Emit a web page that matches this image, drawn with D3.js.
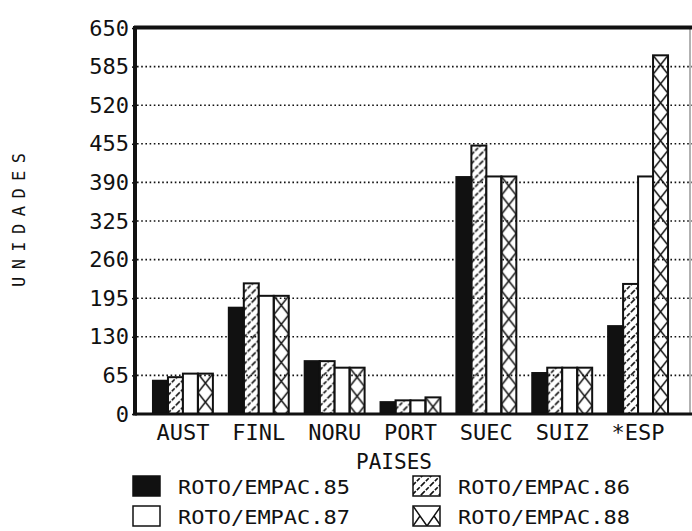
<!DOCTYPE html>
<html>
<head>
<meta charset="utf-8">
<script src="https://cdn.jsdelivr.net/npm/d3@7"></script>
<style>
  body { margin: 0; background: #fff; }
  svg { display: block; }
  text { font-family: "DejaVu Sans Mono", monospace; fill: #111; }
</style>
</head>
<body>
<svg class="chart" width="692" height="531"></svg>
<script>
// Countries (x categories) and the four yearly series.
var paises = ["AUST", "FINL", "NORU", "PORT", "SUEC", "SUIZ", "*ESP"];
var roto85 = [56, 179, 89, 20, 399, 69, 148];
var roto86 = [62, 220, 89, 23, 452, 78, 219];
var roto87 = [68, 199, 78, 23, 400, 78, 400];
var roto88 = [68, 199, 78, 28, 400, 78, 604];
var seriesNames = ["ROTO/EMPAC.85", "ROTO/EMPAC.86", "ROTO/EMPAC.87", "ROTO/EMPAC.88"];
var yTicks = [0, 65, 130, 195, 260, 325, 390, 455, 520, 585, 650];

var series = [roto85, roto86, roto87, roto88];
var fills = ["#111", "url(#hatch)", "#fff", "url(#cross)"];

// Plot frame.
var plotLeft = 135, plotRight = 691, plotTop = 28, plotBottom = 414;

var svg = d3.select(".chart");

var x0 = d3.scaleBand()
    .domain(paises)
    .range([145, 676])
    .paddingInner(0.21)
    .paddingOuter(0.105);

var x1 = d3.scaleBand()
    .domain(d3.range(series.length))
    .range([0, x0.bandwidth()]);

var y = d3.scaleLinear()
    .domain([0, 650])
    .range([plotBottom, plotTop]);

var bw = x1.bandwidth();

// Fill patterns.
var defs = svg.append("defs");
defs.append("pattern")
    .attr("id", "hatch")
    .attr("patternUnits", "userSpaceOnUse")
    .attr("width", 9).attr("height", 9)
    .append("path")
    .attr("d", "M-2,2 L2,-2 M0,9 L9,0 M7,11 L11,7")
    .attr("stroke", "#111")
    .attr("stroke-width", 1.6)
    .attr("stroke-dasharray", "4,1.5");

defs.append("pattern")
    .attr("id", "cross")
    .attr("patternUnits", "userSpaceOnUse")
    .attr("width", bw).attr("height", 19)
    .append("path")
    .attr("d", "M0,0 L" + bw + ",19 M" + bw + ",0 L0,19")
    .attr("stroke", "#111")
    .attr("stroke-width", 1.5)
    .attr("fill", "none");

defs.append("pattern")
    .attr("id", "crossLegend")
    .attr("patternUnits", "userSpaceOnUse")
    .attr("width", 28).attr("height", 20)
    .append("path")
    .attr("d", "M0,0 L14,20 L28,0 M0,20 L7,10 M28,20 L21,10")
    .attr("stroke", "#111")
    .attr("stroke-width", 1.5)
    .attr("fill", "none");

// Dotted grid lines.
svg.append("g")
    .selectAll("line")
    .data(yTicks.slice(1, -1))
    .enter()
    .append("line")
    .attr("x1", plotLeft + 2)
    .attr("x2", 692)
    .attr("y1", function (d) { return y(d); })
    .attr("y2", function (d) { return y(d); })
    .attr("stroke", "#111")
    .attr("stroke-width", 1.6)
    .attr("stroke-dasharray", "1.6,2.6");

// Bars: one group per country, each bar translated so the pattern starts at its left edge.
var groups = svg.append("g")
    .selectAll("g")
    .data(paises)
    .enter()
    .append("g")
    .attr("transform", function (d) { return "translate(" + x0(d) + ",0)"; });

groups.selectAll("g")
    .data(function (d, i) {
        return series.map(function (s, k) { return { k: k, v: s[i] }; });
    })
    .enter()
    .append("g")
    .attr("transform", function (d) { return "translate(" + x1(d.k) + "," + y(d.v) + ")"; })
    .append("rect")
    .attr("x", 0)
    .attr("y", 0)
    .attr("width", bw)
    .attr("height", function (d) { return plotBottom - y(d.v); })
    .attr("fill", function (d) { return fills[d.k]; })
    .attr("stroke", "#111")
    .attr("stroke-width", 2);

// Frame lines.
svg.append("line")
    .attr("x1", plotRight - 1).attr("x2", plotRight - 1)
    .attr("y1", plotTop).attr("y2", plotBottom)
    .attr("stroke", "#999").attr("stroke-width", 1.5);
svg.append("line")
    .attr("x1", plotLeft - 1).attr("x2", 692)
    .attr("y1", plotTop - 0.5).attr("y2", plotTop - 0.5)
    .attr("stroke", "#111").attr("stroke-width", 4);
svg.append("line")
    .attr("x1", plotLeft).attr("x2", 692)
    .attr("y1", plotBottom).attr("y2", plotBottom)
    .attr("stroke", "#111").attr("stroke-width", 3);
svg.append("line")
    .attr("x1", plotLeft).attr("x2", plotLeft)
    .attr("y1", plotTop - 2).attr("y2", plotBottom + 1.5)
    .attr("stroke", "#111").attr("stroke-width", 4);

// Y axis labels.
var yAxis = svg.append("g")
    .attr("transform", "translate(" + plotLeft + ",0)")
    .call(d3.axisLeft(y).tickValues(yTicks).tickSize(3).tickPadding(3));
yAxis.select(".domain").remove();
yAxis.selectAll("line").attr("stroke", "#111").attr("stroke-width", 1.5);
yAxis.selectAll("text")
    .attr("font-family", null)
    .style("font-size", "22px")
    .attr("fill", "#111");

// X axis labels.
var xAxis = svg.append("g")
    .attr("transform", "translate(0," + plotBottom + ")")
    .call(d3.axisBottom(x0).tickSize(0).tickPadding(10));
xAxis.select(".domain").remove();
xAxis.selectAll("text")
    .attr("font-family", null)
    .style("font-size", "22px")
    .attr("fill", "#111");

// Axis titles.
svg.append("text")
    .attr("x", 394)
    .attr("y", 469)
    .attr("text-anchor", "middle")
    .style("font-size", "21px")
    .text("PAISES");

svg.append("text")
    .attr("transform", "translate(25,220) rotate(-90)")
    .attr("text-anchor", "middle")
    .attr("textLength", 134)
    .attr("lengthAdjust", "spacing")
    .style("font-size", "17px")
    .text("UNIDADES");

// Legend, two columns by two rows.
var legend = svg.append("g")
    .selectAll("g")
    .data(seriesNames)
    .enter()
    .append("g")
    .attr("transform", function (d, i) {
        return "translate(" + (i % 2 === 0 ? 133 : 413) + "," + (i < 2 ? 476 : 506) + ")";
    });

legend.append("rect")
    .attr("width", 27)
    .attr("height", 20)
    .attr("fill", function (d, i) { return i === 3 ? "url(#crossLegend)" : fills[i]; })
    .attr("stroke", "#111")
    .attr("stroke-width", 1.5);

legend.append("text")
    .attr("x", 45)
    .attr("y", 18)
    .style("font-size", "20px")
    .attr("textLength", 172)
    .attr("lengthAdjust", "spacingAndGlyphs")
    .text(function (d) { return d; });
</script>
</body>
</html>
